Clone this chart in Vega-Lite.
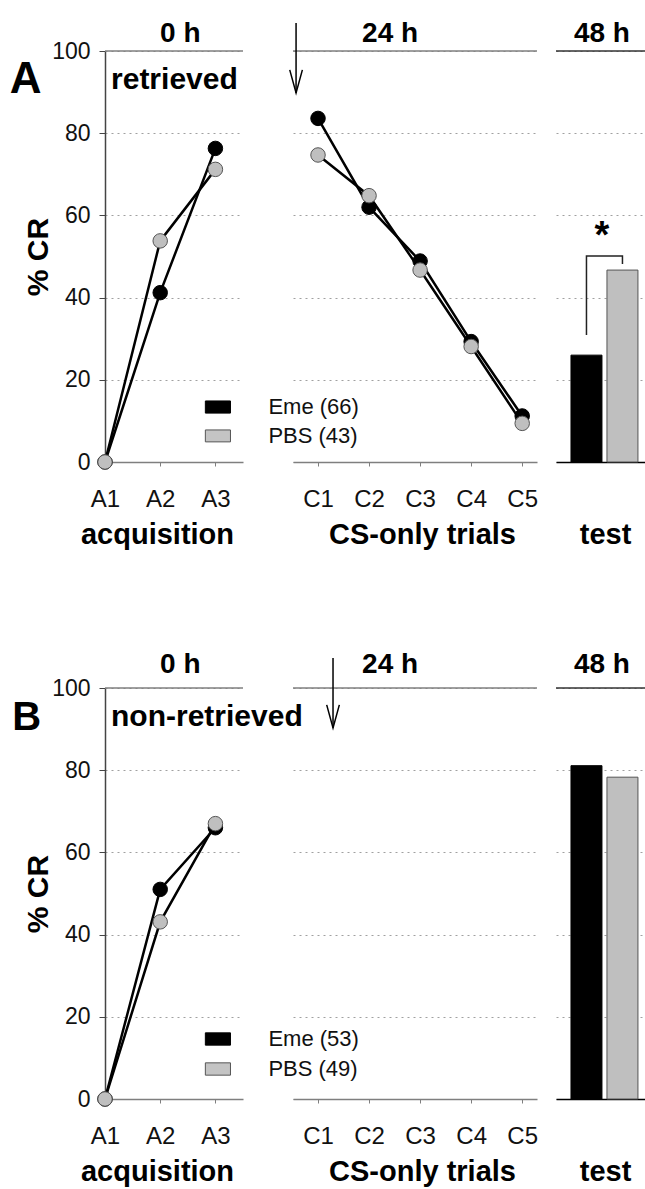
{
  "$schema": "https://vega.github.io/schema/vega-lite/v6.json",
  "autosize": {"type": "none"},
  "padding": {"left": 105, "top": 51, "right": 540, "bottom": 1138},
  "background": "white",
  "config": {
    "view": {"stroke": null},
    "font": "Liberation Sans",
    "text": {"font": "Liberation Sans", "color": "#000"},
    "axis": {
      "labelFont": "Liberation Sans", "titleFont": "Liberation Sans",
      "labelFontSize": 24, "labelColor": "#111", "titleFontSize": 29, "titleFontWeight": "bold", "titleColor": "#000",
      "gridColor": "#a0a0a0", "gridDash": [2, 4], "gridWidth": 1,
      "labelFlush": false, "labelOverlap": false
    },
    "axisY": {"grid": true, "domainColor": "#444", "domainWidth": 1.5, "tickColor": "#444", "tickSize": 6, "labelPadding": 9, "labelFontSize": 23},
    "axisX": {"grid": false, "domainColor": "#7f7f7f", "domainWidth": 1.5, "tickColor": "#7f7f7f", "tickSize": 4, "labelBaseline": "alphabetic", "labelPadding": 40, "titleBaseline": "alphabetic", "titleY": 81}
  },
  "datasets": {
    "acq": [
      {"row": "A", "group": "Eme", "trial": 1, "pct": 0},
      {"row": "A", "group": "Eme", "trial": 2, "pct": 41.2},
      {"row": "A", "group": "Eme", "trial": 3, "pct": 76.3},
      {"row": "B", "group": "Eme", "trial": 1, "pct": 0},
      {"row": "B", "group": "Eme", "trial": 2, "pct": 51.0},
      {"row": "B", "group": "Eme", "trial": 3, "pct": 66.0},
      {"row": "A", "group": "PBS", "trial": 1, "pct": 0},
      {"row": "A", "group": "PBS", "trial": 2, "pct": 53.8},
      {"row": "A", "group": "PBS", "trial": 3, "pct": 71.2},
      {"row": "B", "group": "PBS", "trial": 1, "pct": 0},
      {"row": "B", "group": "PBS", "trial": 2, "pct": 43.1},
      {"row": "B", "group": "PBS", "trial": 3, "pct": 67.0}
    ],
    "cs": [
      {"row": "A", "group": "Eme", "trial": 1, "pct": 83.6},
      {"row": "A", "group": "Eme", "trial": 2, "pct": 62.0},
      {"row": "A", "group": "Eme", "trial": 3, "pct": 48.9},
      {"row": "A", "group": "Eme", "trial": 4, "pct": 29.3},
      {"row": "A", "group": "Eme", "trial": 5, "pct": 11.2},
      {"row": "A", "group": "PBS", "trial": 1, "pct": 74.7},
      {"row": "A", "group": "PBS", "trial": 2, "pct": 64.8},
      {"row": "A", "group": "PBS", "trial": 3, "pct": 46.7},
      {"row": "A", "group": "PBS", "trial": 4, "pct": 28.1},
      {"row": "A", "group": "PBS", "trial": 5, "pct": 9.4}
    ],
    "test": [
      {"row": "A", "group": "Eme", "pct": 26.0},
      {"row": "A", "group": "PBS", "pct": 46.7},
      {"row": "B", "group": "Eme", "pct": 81.1},
      {"row": "B", "group": "PBS", "pct": 78.3}
    ],
    "bracket": [
      {"group": "Eme", "pct": 30.9, "o": 1},
      {"group": "Eme", "pct": 50.1, "o": 2},
      {"group": "PBS", "pct": 50.1, "o": 3},
      {"group": "PBS", "pct": 48.2, "o": 4}
    ]
  },
  "vconcat": [
    {
      "hconcat": [
        {
          "width": 138, "height": 411,
          "layer": [
            {"data": {"values": [{}]}, "mark": {"type": "rule", "color": "#7f7f7f", "strokeWidth": 1.5},
             "encoding": {"y": {"datum": 100, "type": "quantitative", "scale": {"domain": [0, 100], "nice": false},
               "axis": {"values": [0, 20, 40, 60, 80, 100], "title": "% CR", "titleFontSize": 30, "titleX": -58, "titleY": 205.5, "titleBaseline": "alphabetic", "titleAngle": -90}}}},
            {"data": {"name": "acq"}, "transform": [{"filter": "datum.row == 'A'"}],
             "mark": {"type": "line", "color": "#000", "strokeWidth": 2.5},
             "encoding": {
               "x": {"field": "trial", "type": "quantitative", "scale": {"domain": [1, 3.5], "nice": false, "zero": false},
                 "axis": {"values": [1, 2, 3], "labelExpr": "'A' + datum.value", "title": "acquisition", "titleX": 52}},
               "y": {"field": "pct", "type": "quantitative", "scale": {"domain": [0, 100], "nice": false}},
               "detail": {"field": "group"}}},
            {"data": {"name": "acq"}, "transform": [{"filter": "datum.row == 'A'"}],
             "mark": {"type": "circle", "size": 210, "opacity": 1, "strokeWidth": 1},
             "encoding": {
               "x": {"field": "trial", "type": "quantitative", "scale": {"domain": [1, 3.5], "nice": false, "zero": false}},
               "y": {"field": "pct", "type": "quantitative", "scale": {"domain": [0, 100], "nice": false}},
               "fill": {"field": "group", "type": "nominal", "scale": {"domain": ["Eme", "PBS"], "range": ["#000000", "#bfbfbf"]}, "legend": null},
               "stroke": {"field": "group", "type": "nominal", "scale": {"domain": ["Eme", "PBS"], "range": ["#000000", "#555555"]}, "legend": null}}},
            {"data": {"values": [{}]}, "mark": {"type": "text", "text": "A", "fontSize": 44, "fontWeight": "bold", "align": "center", "baseline": "alphabetic"},
             "encoding": {"x": {"datum": -0.436, "type": "quantitative", "scale": {"domain": [1, 3.5], "nice": false, "zero": false}},
               "y": {"datum": 89.8, "type": "quantitative", "scale": {"domain": [0, 100], "nice": false}}}},
            {"data": {"values": [{}]}, "mark": {"type": "text", "text": "retrieved", "fontSize": 30, "fontWeight": "bold", "align": "left", "baseline": "alphabetic"},
             "encoding": {"x": {"datum": 1.109, "type": "quantitative", "scale": {"domain": [1, 3.5], "nice": false, "zero": false}},
               "y": {"datum": 90.75, "type": "quantitative", "scale": {"domain": [0, 100], "nice": false}}}},
            {"data": {"values": [{}]}, "mark": {"type": "text", "text": "0 h", "fontSize": 28, "fontWeight": "bold", "align": "center", "baseline": "alphabetic"},
             "encoding": {"x": {"datum": 2.364, "type": "quantitative", "scale": {"domain": [1, 3.5], "nice": false, "zero": false}},
               "y": {"datum": 102.2, "type": "quantitative", "scale": {"domain": [0, 100], "nice": false}}}},
            {"data": {"values": [{}]}, "mark": {"type": "rect", "fill": "#000", "stroke": "#000", "strokeWidth": 1},
             "encoding": {"x": {"datum": 2.818, "type": "quantitative", "scale": {"domain": [1, 3.5], "nice": false, "zero": false}}, "x2": {"datum": 3.273},
               "y": {"datum": 14.85, "type": "quantitative", "scale": {"domain": [0, 100], "nice": false}}, "y2": {"datum": 11.9}}},
            {"data": {"values": [{}]}, "mark": {"type": "rect", "fill": "#c4c4c4", "stroke": "#555", "strokeWidth": 1},
             "encoding": {"x": {"datum": 2.818, "type": "quantitative", "scale": {"domain": [1, 3.5], "nice": false, "zero": false}}, "x2": {"datum": 3.273},
               "y": {"datum": 7.8, "type": "quantitative", "scale": {"domain": [0, 100], "nice": false}}, "y2": {"datum": 4.9}}},
            {"data": {"values": [{}]}, "mark": {"type": "text", "text": "Eme (66)", "fontSize": 22, "color": "#111", "align": "left", "baseline": "middle"},
             "encoding": {"x": {"datum": 3.96, "type": "quantitative", "scale": {"domain": [1, 3.5], "nice": false, "zero": false}},
               "y": {"datum": 13.4, "type": "quantitative", "scale": {"domain": [0, 100], "nice": false}}}},
            {"data": {"values": [{}]}, "mark": {"type": "text", "text": "PBS (43)", "fontSize": 22, "color": "#111", "align": "left", "baseline": "middle"},
             "encoding": {"x": {"datum": 3.96, "type": "quantitative", "scale": {"domain": [1, 3.5], "nice": false, "zero": false}},
               "y": {"datum": 6.3, "type": "quantitative", "scale": {"domain": [0, 100], "nice": false}}}}
          ]
        },
        {
          "hconcat": [
            {
              "width": 244, "height": 411,
              "layer": [
                {"data": {"values": [{}]}, "mark": {"type": "rule", "color": "#7f7f7f", "strokeWidth": 1.5},
                 "encoding": {"y": {"datum": 100, "type": "quantitative", "scale": {"domain": [0, 100], "nice": false},
                   "axis": {"values": [0, 20, 40, 60, 80, 100], "domain": false, "labels": false, "ticks": false, "title": null}}}},
                {"data": {"name": "cs"}, "transform": [{"filter": "datum.row == 'A'"}],
                 "mark": {"type": "line", "color": "#000", "strokeWidth": 2.5},
                 "encoding": {
                   "x": {"field": "trial", "type": "quantitative", "scale": {"domain": [0.51, 5.29], "nice": false, "zero": false},
                     "axis": {"values": [1, 2, 3, 4, 5], "labelExpr": "'C' + datum.value", "title": "CS-only trials", "titleX": 129}},
                   "y": {"field": "pct", "type": "quantitative", "scale": {"domain": [0, 100], "nice": false}},
                   "detail": {"field": "group"}}},
                {"data": {"name": "cs"}, "transform": [{"filter": "datum.row == 'A'"}],
                 "mark": {"type": "circle", "size": 210, "opacity": 1, "strokeWidth": 1},
                 "encoding": {
                   "x": {"field": "trial", "type": "quantitative", "scale": {"domain": [0.51, 5.29], "nice": false, "zero": false}},
                   "y": {"field": "pct", "type": "quantitative", "scale": {"domain": [0, 100], "nice": false}},
                   "fill": {"field": "group", "type": "nominal", "scale": {"domain": ["Eme", "PBS"], "range": ["#000000", "#bfbfbf"]}, "legend": null},
                   "stroke": {"field": "group", "type": "nominal", "scale": {"domain": ["Eme", "PBS"], "range": ["#000000", "#555555"]}, "legend": null}}},
                {"data": {"values": [{}]}, "mark": {"type": "rule", "color": "#000", "strokeWidth": 1.5},
                 "encoding": {"x": {"datum": 0.57, "type": "quantitative", "scale": {"domain": [0.51, 5.29], "nice": false, "zero": false}},
                   "y": {"datum": 106.8, "type": "quantitative", "scale": {"domain": [0, 100], "nice": false}}, "y2": {"datum": 89.8}}},
                {"data": {"values": [{}]}, "mark": {"type": "point", "shape": "M-0.55,-1L0,1L0.55,-1", "size": 529, "filled": false, "stroke": "#000", "strokeWidth": 1.5, "opacity": 1},
                 "encoding": {"x": {"datum": 0.57, "type": "quantitative", "scale": {"domain": [0.51, 5.29], "nice": false, "zero": false}},
                   "y": {"datum": 92.6, "type": "quantitative", "scale": {"domain": [0, 100], "nice": false}}}},
                {"data": {"values": [{}]}, "mark": {"type": "text", "text": "24 h", "fontSize": 28, "fontWeight": "bold", "align": "center", "baseline": "alphabetic"},
                 "encoding": {"x": {"datum": 2.412, "type": "quantitative", "scale": {"domain": [0.51, 5.29], "nice": false, "zero": false}},
                   "y": {"datum": 102.2, "type": "quantitative", "scale": {"domain": [0, 100], "nice": false}}}}
              ]
            },
            {
              "width": 89, "height": 411,
              "layer": [
                {"data": {"values": [{}]}, "mark": {"type": "rule", "color": "#333", "strokeWidth": 1.5},
                 "encoding": {"y": {"datum": 100, "type": "quantitative", "scale": {"domain": [0, 100], "nice": false},
                   "axis": {"values": [0, 20, 40, 60, 80, 100], "domain": false, "labels": false, "ticks": false, "title": null}}}},
                {"data": {"name": "test"}, "transform": [{"filter": "datum.row == 'A'"}],
                 "mark": {"type": "bar", "strokeWidth": 1},
                 "encoding": {
                   "x": {"field": "group", "type": "nominal", "scale": {"type": "band", "domain": ["Eme", "PBS"], "paddingInner": 0.139, "paddingOuter": 0.306, "align": 0.68},
                     "axis": {"labels": false, "ticks": false, "domainColor": "#000", "title": "test", "titleX": 49}},
                   "y": {"field": "pct", "type": "quantitative", "scale": {"domain": [0, 100], "nice": false}},
                   "fill": {"field": "group", "type": "nominal", "scale": {"domain": ["Eme", "PBS"], "range": ["#000000", "#bfbfbf"]}, "legend": null},
                   "stroke": {"field": "group", "type": "nominal", "scale": {"domain": ["Eme", "PBS"], "range": ["#000000", "#555555"]}, "legend": null}}},
                {"data": {"name": "bracket"},
                 "mark": {"type": "line", "color": "#222", "strokeWidth": 1.5},
                 "encoding": {
                   "x": {"field": "group", "type": "nominal", "scale": {"type": "band", "domain": ["Eme", "PBS"], "paddingInner": 0.139, "paddingOuter": 0.306, "align": 0.68}},
                   "y": {"field": "pct", "type": "quantitative", "scale": {"domain": [0, 100], "nice": false}},
                   "order": {"field": "o", "type": "quantitative"}}},
                {"data": {"values": [{}]}, "mark": {"type": "text", "text": "*", "fontSize": 38, "fontWeight": "bold", "align": "center", "baseline": "alphabetic"},
                 "encoding": {"x": {"datum": "Eme", "type": "nominal", "bandPosition": 1, "scale": {"type": "band", "domain": ["Eme", "PBS"], "paddingInner": 0.139, "paddingOuter": 0.306, "align": 0.68}},
                   "y": {"datum": 52.0, "type": "quantitative", "scale": {"domain": [0, 100], "nice": false}}}},
                {"data": {"values": [{}]}, "mark": {"type": "text", "text": "48 h", "fontSize": 28, "fontWeight": "bold", "align": "center", "baseline": "alphabetic"},
                 "encoding": {"x": {"datum": "Eme", "type": "nominal", "bandPosition": 1, "scale": {"type": "band", "domain": ["Eme", "PBS"], "paddingInner": 0.139, "paddingOuter": 0.306, "align": 0.68}},
                   "y": {"datum": 102.2, "type": "quantitative", "scale": {"domain": [0, 100], "nice": false}}}}
              ]
            }
          ],
          "spacing": 19, "bounds": "flush"
        }
      ],
      "spacing": 50, "bounds": "flush"
    },
    {
      "hconcat": [
        {
          "width": 138, "height": 411,
          "layer": [
            {"data": {"values": [{}]}, "mark": {"type": "rule", "color": "#7f7f7f", "strokeWidth": 1.5},
             "encoding": {"y": {"datum": 100, "type": "quantitative", "scale": {"domain": [0, 100], "nice": false},
               "axis": {"values": [0, 20, 40, 60, 80, 100], "title": "% CR", "titleFontSize": 30, "titleX": -58, "titleY": 205.5, "titleBaseline": "alphabetic", "titleAngle": -90}}}},
            {"data": {"name": "acq"}, "transform": [{"filter": "datum.row == 'B'"}],
             "mark": {"type": "line", "color": "#000", "strokeWidth": 2.5},
             "encoding": {
               "x": {"field": "trial", "type": "quantitative", "scale": {"domain": [1, 3.5], "nice": false, "zero": false},
                 "axis": {"values": [1, 2, 3], "labelExpr": "'A' + datum.value", "title": "acquisition", "titleX": 52}},
               "y": {"field": "pct", "type": "quantitative", "scale": {"domain": [0, 100], "nice": false}},
               "detail": {"field": "group"}}},
            {"data": {"name": "acq"}, "transform": [{"filter": "datum.row == 'B'"}],
             "mark": {"type": "circle", "size": 210, "opacity": 1, "strokeWidth": 1},
             "encoding": {
               "x": {"field": "trial", "type": "quantitative", "scale": {"domain": [1, 3.5], "nice": false, "zero": false}},
               "y": {"field": "pct", "type": "quantitative", "scale": {"domain": [0, 100], "nice": false}},
               "fill": {"field": "group", "type": "nominal", "scale": {"domain": ["Eme", "PBS"], "range": ["#000000", "#bfbfbf"]}, "legend": null},
               "stroke": {"field": "group", "type": "nominal", "scale": {"domain": ["Eme", "PBS"], "range": ["#000000", "#555555"]}, "legend": null}}},
            {"data": {"values": [{}]}, "mark": {"type": "text", "text": "B", "fontSize": 40, "fontWeight": "bold", "align": "center", "baseline": "alphabetic"},
             "encoding": {"x": {"datum": -0.418, "type": "quantitative", "scale": {"domain": [1, 3.5], "nice": false, "zero": false}},
               "y": {"datum": 89.8, "type": "quantitative", "scale": {"domain": [0, 100], "nice": false}}}},
            {"data": {"values": [{}]}, "mark": {"type": "text", "text": "non-retrieved", "fontSize": 30, "fontWeight": "bold", "align": "left", "baseline": "alphabetic"},
             "encoding": {"x": {"datum": 1.109, "type": "quantitative", "scale": {"domain": [1, 3.5], "nice": false, "zero": false}},
               "y": {"datum": 90.75, "type": "quantitative", "scale": {"domain": [0, 100], "nice": false}}}},
            {"data": {"values": [{}]}, "mark": {"type": "text", "text": "0 h", "fontSize": 28, "fontWeight": "bold", "align": "center", "baseline": "alphabetic"},
             "encoding": {"x": {"datum": 2.364, "type": "quantitative", "scale": {"domain": [1, 3.5], "nice": false, "zero": false}},
               "y": {"datum": 103.6, "type": "quantitative", "scale": {"domain": [0, 100], "nice": false}}}},
            {"data": {"values": [{}]}, "mark": {"type": "rect", "fill": "#000", "stroke": "#000", "strokeWidth": 1},
             "encoding": {"x": {"datum": 2.818, "type": "quantitative", "scale": {"domain": [1, 3.5], "nice": false, "zero": false}}, "x2": {"datum": 3.273},
               "y": {"datum": 16.1, "type": "quantitative", "scale": {"domain": [0, 100], "nice": false}}, "y2": {"datum": 13.1}}},
            {"data": {"values": [{}]}, "mark": {"type": "rect", "fill": "#c4c4c4", "stroke": "#555", "strokeWidth": 1},
             "encoding": {"x": {"datum": 2.818, "type": "quantitative", "scale": {"domain": [1, 3.5], "nice": false, "zero": false}}, "x2": {"datum": 3.273},
               "y": {"datum": 8.8, "type": "quantitative", "scale": {"domain": [0, 100], "nice": false}}, "y2": {"datum": 5.8}}},
            {"data": {"values": [{}]}, "mark": {"type": "text", "text": "Eme (53)", "fontSize": 22, "color": "#111", "align": "left", "baseline": "middle"},
             "encoding": {"x": {"datum": 3.96, "type": "quantitative", "scale": {"domain": [1, 3.5], "nice": false, "zero": false}},
               "y": {"datum": 14.6, "type": "quantitative", "scale": {"domain": [0, 100], "nice": false}}}},
            {"data": {"values": [{}]}, "mark": {"type": "text", "text": "PBS (49)", "fontSize": 22, "color": "#111", "align": "left", "baseline": "middle"},
             "encoding": {"x": {"datum": 3.96, "type": "quantitative", "scale": {"domain": [1, 3.5], "nice": false, "zero": false}},
               "y": {"datum": 7.3, "type": "quantitative", "scale": {"domain": [0, 100], "nice": false}}}}
          ]
        },
        {
          "hconcat": [
            {
              "width": 244, "height": 411,
              "layer": [
                {"data": {"values": [{}]}, "mark": {"type": "rule", "color": "#7f7f7f", "strokeWidth": 1.5},
                 "encoding": {"y": {"datum": 100, "type": "quantitative", "scale": {"domain": [0, 100], "nice": false},
                   "axis": {"values": [0, 20, 40, 60, 80, 100], "domain": false, "labels": false, "ticks": false, "title": null}}}},
                {"data": {"values": [{}]}, "mark": {"type": "rule", "color": "#000", "strokeWidth": 1.5},
                 "encoding": {"x": {"datum": 1.294, "type": "quantitative", "scale": {"domain": [0.51, 5.29], "nice": false, "zero": false},
                     "axis": {"values": [1, 2, 3, 4, 5], "labelExpr": "'C' + datum.value", "title": "CS-only trials", "titleX": 129}},
                   "y": {"datum": 107.3, "type": "quantitative", "scale": {"domain": [0, 100], "nice": false}}, "y2": {"datum": 90.3}}},
                {"data": {"values": [{}]}, "mark": {"type": "point", "shape": "M-0.55,-1L0,1L0.55,-1", "size": 529, "filled": false, "stroke": "#000", "strokeWidth": 1.5, "opacity": 1},
                 "encoding": {"x": {"datum": 1.294, "type": "quantitative", "scale": {"domain": [0.51, 5.29], "nice": false, "zero": false}},
                   "y": {"datum": 93.1, "type": "quantitative", "scale": {"domain": [0, 100], "nice": false}}}},
                {"data": {"values": [{}]}, "mark": {"type": "text", "text": "24 h", "fontSize": 28, "fontWeight": "bold", "align": "center", "baseline": "alphabetic"},
                 "encoding": {"x": {"datum": 2.412, "type": "quantitative", "scale": {"domain": [0.51, 5.29], "nice": false, "zero": false}},
                   "y": {"datum": 103.6, "type": "quantitative", "scale": {"domain": [0, 100], "nice": false}}}}
              ]
            },
            {
              "width": 89, "height": 411,
              "layer": [
                {"data": {"values": [{}]}, "mark": {"type": "rule", "color": "#333", "strokeWidth": 1.5},
                 "encoding": {"y": {"datum": 100, "type": "quantitative", "scale": {"domain": [0, 100], "nice": false},
                   "axis": {"values": [0, 20, 40, 60, 80, 100], "domain": false, "labels": false, "ticks": false, "title": null}}}},
                {"data": {"name": "test"}, "transform": [{"filter": "datum.row == 'B'"}],
                 "mark": {"type": "bar", "strokeWidth": 1},
                 "encoding": {
                   "x": {"field": "group", "type": "nominal", "scale": {"type": "band", "domain": ["Eme", "PBS"], "paddingInner": 0.139, "paddingOuter": 0.306, "align": 0.68},
                     "axis": {"labels": false, "ticks": false, "domainColor": "#000", "title": "test", "titleX": 49}},
                   "y": {"field": "pct", "type": "quantitative", "scale": {"domain": [0, 100], "nice": false}},
                   "fill": {"field": "group", "type": "nominal", "scale": {"domain": ["Eme", "PBS"], "range": ["#000000", "#bfbfbf"]}, "legend": null},
                   "stroke": {"field": "group", "type": "nominal", "scale": {"domain": ["Eme", "PBS"], "range": ["#000000", "#555555"]}, "legend": null}}},
                {"data": {"values": [{}]}, "mark": {"type": "text", "text": "48 h", "fontSize": 28, "fontWeight": "bold", "align": "center", "baseline": "alphabetic"},
                 "encoding": {"x": {"datum": "Eme", "type": "nominal", "bandPosition": 1, "scale": {"type": "band", "domain": ["Eme", "PBS"], "paddingInner": 0.139, "paddingOuter": 0.306, "align": 0.68}},
                   "y": {"datum": 103.6, "type": "quantitative", "scale": {"domain": [0, 100], "nice": false}}}}
              ]
            }
          ],
          "spacing": 19, "bounds": "flush"
        }
      ],
      "spacing": 50, "bounds": "flush"
    }
  ],
  "spacing": 637, "bounds": "flush"
}
